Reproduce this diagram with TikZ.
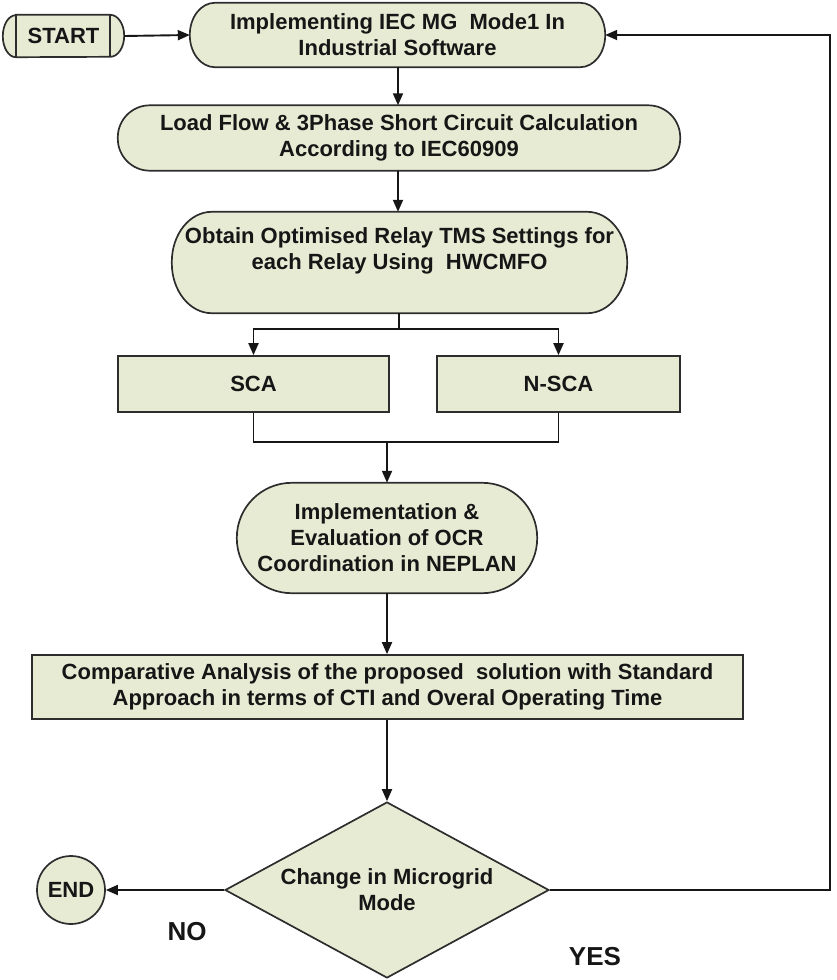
\documentclass[tikz,border=0pt]{standalone}
\usepackage{fontspec}
\setmainfont{Liberation Sans}
\usetikzlibrary{arrows.meta,shapes.geometric,backgrounds,calc}

\definecolor{boxfill}{RGB}{232,235,212}
\definecolor{boxline}{RGB}{45,45,45}
\definecolor{ink}{RGB}{22,22,22}

% Outline of a box with elliptical ends: #1 node, #2 x radius, #3 y radius
\newcommand{\stadiumoutline}[3]{%
  \path[shapeline] ([xshift=#2]#1.north west) -- ([xshift=-#2]#1.north east)
    arc[start angle=90,end angle=0,x radius=#2,y radius=#3]
    -- ([yshift=#3]#1.south east)
    arc[start angle=0,end angle=-90,x radius=#2,y radius=#3]
    -- ([xshift=#2]#1.south west)
    arc[start angle=270,end angle=180,x radius=#2,y radius=#3]
    -- ([yshift=-#3]#1.north west)
    arc[start angle=180,end angle=90,x radius=#2,y radius=#3]
    -- cycle;}

\tikzset{
  label text/.style={font=\fontsize{22}{26}\selectfont\bfseries, text=ink, align=center},
  plain/.style={label text, shape=rectangle, inner sep=0pt},
  shapeline/.style={draw=boxline, fill=boxfill, line width=1.7pt},
  rectbox/.style={plain, shapeline},
  decision/.style={label text, shape=diamond, shape aspect=1.84, shapeline,
    inner sep=0pt, minimum width=324pt, minimum height=176pt},
  terminal/.style={label text, shape=circle, shapeline, inner sep=0pt, minimum size=68pt},
  answer/.style={font=\fontsize{26}{30}\selectfont\bfseries, text=ink},
  flow/.style={draw=ink, line width=1.9pt},
  arr/.style={flow, -{Triangle[length=12pt,width=10pt]}},
}

\begin{document}
\begin{tikzpicture}[x=1pt,y=-1pt]
\useasboundingbox (0,0) rectangle (836,980);

% process steps
\node[plain, minimum width=121pt, minimum height=42pt] (start) at (63.5,36) {START};
\node[plain, minimum width=415pt, minimum height=64pt] (b1) at (397.5,35)
  {Implementing IEC MG\ \ Mode1 In\\Industrial Software};
\node[plain, minimum width=562pt, minimum height=65pt] (b2) at (399,138)
  {Load Flow \& 3Phase Short Circuit Calculation\\According to IEC60909};
\node[plain, minimum width=455pt, minimum height=101pt] (b3) at (399.5,262.5) {};
\node[plain] (b3t) at (399.5,251)
  {Obtain Optimised Relay TMS Settings for\\each Relay Using\ \ HWCMFO};
\node[rectbox, minimum width=271pt, minimum height=56pt] (sca) at (253.5,384) {SCA};
\node[rectbox, minimum width=243pt, minimum height=56pt] (nsca) at (558.5,384) {N-SCA};
\node[plain, minimum width=300pt, minimum height=110pt] (b4) at (387,538)
  {Implementation \&\\Evaluation of OCR\\Coordination in NEPLAN};
\node[rectbox, minimum width=711pt, minimum height=64pt] (b5) at (387.5,687)
  {Comparative Analysis of the proposed\ \ solution with Standard\\Approach in terms of CTI and Overal Operating Time};
\node[decision] (dia) at (387,890) {Change in Microgrid\\Mode};
\node[terminal] (end) at (71,890) {END};
\node[answer] (no) at (187,932) {NO};
\node[answer] (yes) at (595,957) {YES};

% outlines of the rounded boxes, behind their text
\begin{scope}[on background layer]
  \path[shapeline] ([xshift=13pt]start.north west) -- ([xshift=-14pt]start.north east)
    arc[start angle=90,end angle=-90,x radius=14pt,y radius=21pt]
    -- ([xshift=13pt]start.south west)
    arc[start angle=270,end angle=90,x radius=13pt,y radius=21pt] -- cycle;
  \draw[draw=boxline, line width=1.7pt]
    ([xshift=13pt]start.north west) -- ([xshift=13pt]start.south west)
    ([xshift=-14pt]start.north east) -- ([xshift=-14pt]start.south east);
  \stadiumoutline{b1}{25pt}{32pt}
  \stadiumoutline{b2}{32pt}{32pt}
  \stadiumoutline{b3}{40pt}{50pt}
  \stadiumoutline{b4}{55pt}{55pt}
\end{scope}

% connectors
\coordinate (split) at (399,329);
\coordinate (join) at (387,442);
\coordinate (loop) at (830,890);

\draw[arr] (start.east) -- (b1.west);
\draw[arr] (b1.south -| 398,0) -- (b2.north -| 398,0);
\draw[arr] (b2.south -| 398,0) -- (b3.north -| 398,0);
\draw[flow] (b3.south -| split) -- (split);
\draw[arr] (split) -| (sca.north);
\draw[arr] (split) -| (nsca.north);
\draw[flow] (sca.south) |- (join);
\draw[flow] (nsca.south) |- (join);
\draw[arr] (join) -- (b4.north);
\draw[arr] (b4.south) -- (b4.south |- b5.north);
\draw[arr] (b5.south -| dia.north) -- (dia.north);
\draw[arr] (dia.west) -- (end.east);
\draw[arr] (dia.east) -- (loop) |- (b1.east);

\end{tikzpicture}
\end{document}
